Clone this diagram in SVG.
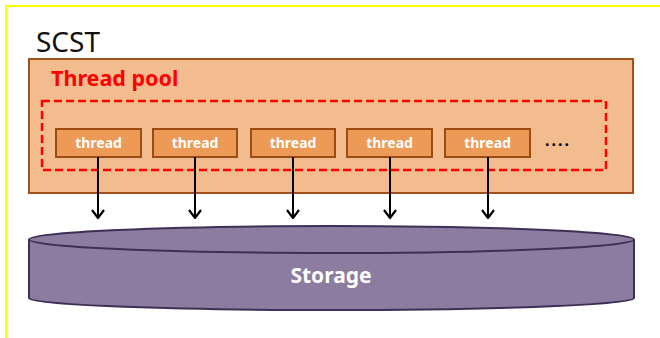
<svg xmlns="http://www.w3.org/2000/svg" width="660" height="338" viewBox="0 0 660 338">
<defs>
<style>
.thr rect{fill:#EC9A56;stroke:#9C4B12;stroke-width:2}
.thr text{fill:#fff;font-family:"Noto Sans","Open Sans",sans-serif;font-weight:bold;font-size:14px;text-anchor:middle}
.conn line{stroke:#000;stroke-width:2}
</style>
<marker id="ah" viewBox="0 0 10 14" refX="9" refY="7" markerWidth="10" markerHeight="14" markerUnits="userSpaceOnUse" orient="auto">
<path d="M1,1 L9,7 L1,13" fill="none" stroke="#000" stroke-width="2.2"/>
</marker>
</defs>
<rect x="0" y="0" width="660" height="338" fill="#fff"/>
<rect x="6" y="6" width="700" height="400" fill="none" stroke="#FFFF00" stroke-width="2"/>
<g id="scst">
<text x="36" y="52" font-family="Noto Sans, Open Sans, sans-serif" font-size="28" fill="#111">SCST</text>
</g>
<g id="pool">
<rect x="29" y="59" width="604" height="134" fill="#F3BC8F" stroke="#A0521A" stroke-width="2"/>
<text x="51" y="86" font-family="Noto Sans, Open Sans, sans-serif" font-weight="bold" font-size="21.5" fill="#FF0000">Thread pool</text>
<rect x="42" y="101" width="564" height="69" fill="none" stroke="#FF0000" stroke-width="2.5" stroke-dasharray="8,4"/>
<text x="545" y="150" font-family="Noto Sans, sans-serif" font-weight="bold" font-size="16" fill="#000" letter-spacing="2">····</text>
</g>
<g id="t1" class="thr"><rect x="56" y="129" width="85" height="28"/><text x="98.5" y="148">thread</text></g>
<g id="t2" class="thr"><rect x="153" y="129" width="84" height="28"/><text x="195" y="148">thread</text></g>
<g id="t3" class="thr"><rect x="251" y="129" width="84" height="28"/><text x="293" y="148">thread</text></g>
<g id="t4" class="thr"><rect x="347" y="129" width="85" height="28"/><text x="389.5" y="148">thread</text></g>
<g id="t5" class="thr"><rect x="445" y="129" width="85" height="28"/><text x="487.5" y="148">thread</text></g>
<g id="storage">
<path d="M29,239.5 L29,298 A302.5,12 0 0 0 634,298 L634,239.5 A302.5,13.5 0 0 0 29,239.5 Z" fill="#8C7C9F" stroke="#3F2F57" stroke-width="2"/>
<path d="M29,239.5 A302.5,13.5 0 0 0 634,239.5" fill="none" stroke="#3F2F57" stroke-width="2"/>
<text x="331" y="283" font-family="Noto Sans, Open Sans, sans-serif" font-weight="bold" font-size="21" fill="#fff" text-anchor="middle">Storage</text>
</g>
<g id="connectors" class="conn">
<line x1="98" y1="157" x2="98" y2="218" marker-end="url(#ah)"/>
<line x1="195" y1="157" x2="195" y2="218" marker-end="url(#ah)"/>
<line x1="293" y1="157" x2="293" y2="218" marker-end="url(#ah)"/>
<line x1="390" y1="157" x2="390" y2="218" marker-end="url(#ah)"/>
<line x1="488" y1="157" x2="488" y2="218" marker-end="url(#ah)"/>
</g>
</svg>
